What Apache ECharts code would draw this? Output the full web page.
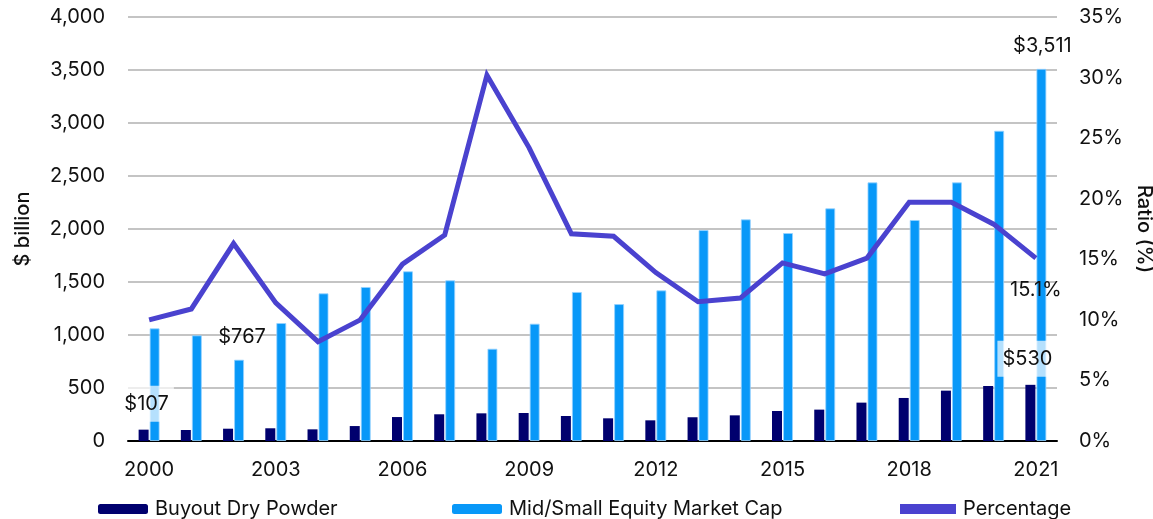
<!DOCTYPE html>
<html>
<head>
<meta charset="utf-8">
<script src="https://cdn.jsdelivr.net/npm/echarts@6/dist/echarts.min.js"></script>
<style>
  html, body { margin: 0; padding: 0; background: #fff; }
  #chart { width: 1153px; height: 519px; }
</style>
</head>
<body>
<div id="chart"></div>
<script>
// data
const years = ['2000', '2001', '2002', '2003', '2004', '2005', '2006', '2007', '2008', '2009', '2010',
  '2011', '2012', '2013', '2014', '2015', '2016', '2017', '2018', '2019', '2020', '2021']
const dryPowder = [107, 104, 116, 120, 110, 141, 226, 252, 261, 264, 236,
  214, 195, 224, 242, 283, 296, 362, 406, 475, 519, 530]
const marketCap = [1063, 997, 767, 1113, 1393, 1453, 1601, 1516, 871, 1107, 1406,
  1292, 1421, 1990, 2091, 1962, 2195, 2440, 2085, 2440, 2927, 3511]
const ratio = [10.0, 10.9, 16.3, 11.4, 8.2, 10.0, 14.6, 17.0, 30.2, 24.2, 17.1,
  16.9, 13.9, 11.5, 11.8, 14.7, 13.8, 15.1, 19.7, 19.7, 17.9, 15.1]

const FONT = 'Inter'
const FS = 20
const darkBlue = '#00006e'
const lightBlue = '#0898f8'
const lineColor = '#4a42cf'

const boxLabel = {
  show: true,
  position: 'top',
  distance: 8,
  color: '#111',
  fontFamily: FONT,
  fontSize: FS,
  backgroundColor: 'rgba(255,255,255,0.7)',
  padding: [8, 5],
  formatter: p => '$' + p.value
}
const plainLabel = {
  show: true,
  position: 'top',
  distance: 13,
  color: '#111',
  fontFamily: FONT,
  fontSize: FS,
  formatter: p => '$' + p.value.toLocaleString('en-US')
}

// only a few points carry a label
const dryData = dryPowder.map((v, i) => {
  if (i === 0) return { value: v, label: Object.assign({}, boxLabel, { offset: [3, 0] }) }
  if (i === dryPowder.length - 1) return { value: v, label: Object.assign({}, boxLabel, { offset: [-3, 0] }) }
  return v
})
const capData = marketCap.map((v, i) => {
  if (i === 2) return { value: v, label: Object.assign({}, plainLabel, { offset: [3, 0] }) }
  if (i === marketCap.length - 1) return { value: v, label: Object.assign({}, plainLabel, { offset: [1, 0] }) }
  return v
})
const ratioData = ratio.map((v, i) => {
  if (i === ratio.length - 1) {
    return {
      value: v,
      label: {
        show: true, position: 'bottom', distance: 22, color: '#111',
        fontFamily: FONT, fontSize: FS, formatter: p => p.value.toFixed(1) + '%'
      }
    }
  }
  return v
})

const chart = echarts.init(document.getElementById('chart'))

const legendBase = {
  top: 499,
  padding: 0,
  itemHeight: 10,
  itemGap: 0,
  itemStyle: { borderWidth: 0 },
  textStyle: { fontFamily: FONT, fontSize: FS, color: '#111', padding: [0, 0, 0, 2] }
}

const option = {
  animation: false,
  textStyle: { fontFamily: FONT },
  grid: { left: 128, right: 96, top: 17, bottom: 78, outerBoundsMode: 'none', containLabel: false },
  legend: [
    Object.assign({}, legendBase, { left: 98, itemWidth: 50, data: ['Buyout Dry Powder'] }),
    Object.assign({}, legendBase, { left: 452, itemWidth: 50, data: ['Mid/Small Equity Market Cap'] }),
    Object.assign({}, legendBase, { left: 900, itemWidth: 56, data: [{ name: 'Percentage', icon: 'rect' }] })
  ],
  xAxis: {
    type: 'category',
    data: years,
    axisLine: { lineStyle: { color: '#000', width: 2 } },
    axisTick: { show: false },
    axisLabel: { interval: 2, margin: 19, fontSize: FS, color: '#111', fontFamily: FONT }
  },
  yAxis: [
    {
      type: 'value',
      min: 0,
      max: 4000,
      interval: 500,
      name: '$ billion',
      nameLocation: 'middle',
      nameGap: 95,
      nameTextStyle: { fontSize: FS, fontWeight: 500, color: '#111', fontFamily: FONT },
      axisLine: { show: false },
      axisTick: { show: false },
      axisLabel: {
        margin: 23, fontSize: FS, color: '#111', fontFamily: FONT,
        formatter: v => v.toLocaleString('en-US')
      },
      splitLine: { lineStyle: { color: '#b0b0b0', width: 1.5 } }
    },
    {
      type: 'value',
      min: 0,
      max: 35,
      interval: 5,
      name: 'Ratio (%)',
      nameLocation: 'middle',
      nameGap: 73,
      nameRotate: -90,
      nameTextStyle: { fontSize: FS, fontWeight: 500, color: '#111', fontFamily: FONT },
      axisLine: { show: false },
      axisTick: { show: false },
      axisLabel: { margin: 22, fontSize: FS, color: '#111', fontFamily: FONT, formatter: '{value}%' },
      splitLine: { show: false }
    }
  ],
  series: [
    {
      name: 'Buyout Dry Powder',
      type: 'bar',
      data: dryData,
      barWidth: 10,
      barGap: '10%',
      itemStyle: { color: darkBlue },
      z: 3
    },
    {
      name: 'Mid/Small Equity Market Cap',
      type: 'bar',
      data: capData,
      barWidth: 10,
      itemStyle: { color: lightBlue, borderColor: 'rgba(150,210,255,0.8)', borderWidth: 1 },
      z: 2
    },
    {
      name: 'Percentage',
      type: 'line',
      yAxisIndex: 1,
      data: ratioData,
      showSymbol: true,
      symbol: 'circle',
      symbolSize: 0,
      lineStyle: { color: lineColor, width: 5, join: 'miter' },
      itemStyle: { color: lineColor },
      labelLayout: { hideOverlap: false },
      z: 4
    }
  ]
}

chart.setOption(option)
</script>
</body>
</html>
